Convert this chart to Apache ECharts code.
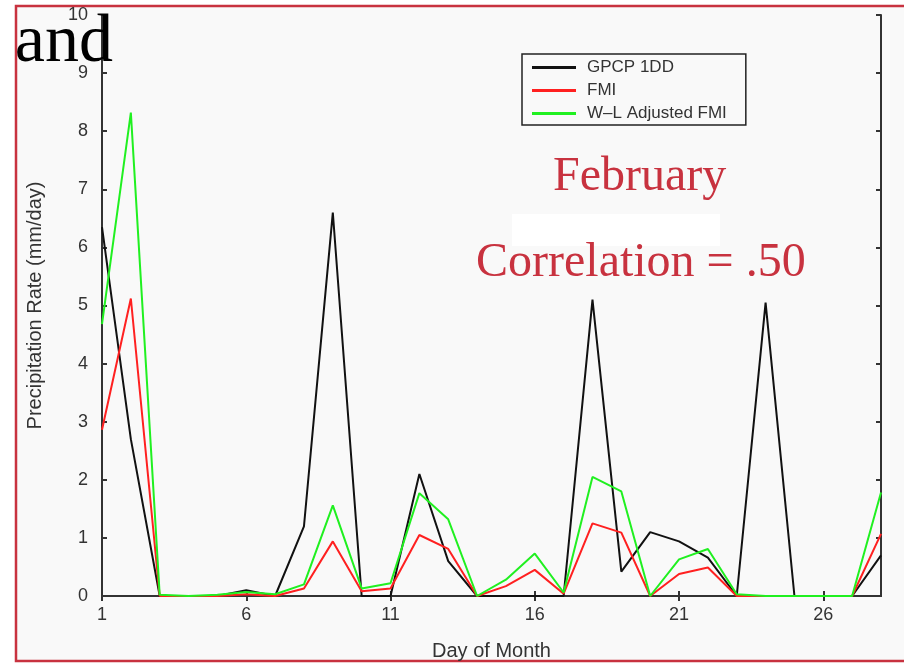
<!DOCTYPE html>
<html>
<head>
<meta charset="utf-8">
<script src="https://cdn.jsdelivr.net/npm/echarts@6/dist/echarts.min.js"></script>
<style>
  html, body { margin: 0; padding: 0; background: #fff; }
  #main { width: 904px; height: 666px; }
</style>
</head>
<body>
<div id="main"></div>
<script>
var myChart = echarts.init(document.getElementById('main'));

// day of month (February)
var days = [];
for (var d = 1; d <= 28; d++) days.push(String(d));

// precipitation rate, mm/day
var gpcp = [6.35, 2.7, 0, 0, 0, 0.1, 0, 1.2, 6.6, 0, 0, 2.1, 0.6, 0, 0, 0, 0, 5.1, 0.42, 1.1, 0.94, 0.66, 0, 5.05, 0, 0, 0, 0.7];
var fmi = [2.86, 5.12, 0, 0, 0, 0.03, 0, 0.13, 0.94, 0.08, 0.13, 1.05, 0.81, 0, 0.17, 0.45, 0.04, 1.25, 1.09, 0, 0.38, 0.49, 0, 0, 0, 0, 0, 1.07];
var wl = [4.68, 8.32, 0.02, 0, 0.02, 0.07, 0.03, 0.2, 1.56, 0.13, 0.22, 1.77, 1.32, 0, 0.28, 0.73, 0.06, 2.05, 1.8, 0, 0.63, 0.81, 0.03, 0, 0, 0, 0, 1.78];

var seriesNames = ['GPCP 1DD', 'FMI', 'W\u2013L Adjusted FMI'];
var seriesColors = ['#111111', '#ff2020', '#20f020'];

var sans = '"Liberation Sans", Arial, sans-serif';
var serif = '"Liberation Serif", "Times New Roman", serif';
var red = '#c8323f';

option = {
    backgroundColor: '#ffffff',
    animation: false,
    grid: { left: 102, right: 23, top: 15, bottom: 59 },
    legend: {
        data: seriesNames,
        orient: 'vertical',
        left: 522,
        top: 54,
        padding: [5, 19, 3, 10],
        itemGap: 6,
        itemWidth: 44,
        itemHeight: 3,
        icon: 'rect',
        borderColor: '#222',
        borderWidth: 1.5,
        textStyle: { color: '#333', fontFamily: sans, fontSize: 17, lineHeight: 16, padding: [0, 0, 0, 6] }
    },
    xAxis: [{
        type: 'category',
        data: days,
        boundaryGap: false,
        name: 'Day of Month',
        nameLocation: 'middle',
        nameGap: 45,
        nameTextStyle: { color: '#333', fontFamily: sans, fontSize: 20 },
        axisLine: { lineStyle: { color: '#333', width: 2 } },
        axisTick: { inside: true, length: 5, interval: 4, lineStyle: { color: '#333', width: 2 } },
        axisLabel: { interval: 4, color: '#333', fontFamily: sans, fontSize: 18, margin: 10 },
        splitLine: { show: false }
    }, {
        type: 'category',
        data: days,
        boundaryGap: false,
        position: 'top',
        axisLine: { lineStyle: { color: '#333', width: 2 } },
        axisTick: { inside: true, length: 5, interval: 4, lineStyle: { color: '#333', width: 2 } },
        axisLabel: { show: false },
        splitLine: { show: false }
    }],
    yAxis: [{
        type: 'value',
        min: 0,
        max: 10,
        interval: 1,
        name: 'Precipitation Rate (mm/day)',
        nameLocation: 'middle',
        nameGap: 57,
        nameTextStyle: { color: '#333', fontFamily: sans, fontSize: 20 },
        axisLine: { show: true, lineStyle: { color: '#333', width: 2 } },
        axisTick: { show: true, inside: true, length: 5, lineStyle: { color: '#333', width: 2 } },
        axisLabel: { color: '#333', fontFamily: sans, fontSize: 18, margin: 14 },
        splitLine: { show: false }
    }, {
        type: 'value',
        min: 0,
        max: 10,
        interval: 1,
        position: 'right',
        axisLine: { show: true, lineStyle: { color: '#333', width: 2 } },
        axisTick: { show: true, inside: true, length: 5, lineStyle: { color: '#333', width: 2 } },
        axisLabel: { show: false },
        splitLine: { show: false }
    }],
    series: [
        { name: seriesNames[0], type: 'line', data: gpcp, symbol: 'none', lineStyle: { width: 2, color: seriesColors[0] }, itemStyle: { color: seriesColors[0] } },
        { name: seriesNames[1], type: 'line', data: fmi, symbol: 'none', lineStyle: { width: 2, color: seriesColors[1] }, itemStyle: { color: seriesColors[1] } },
        { name: seriesNames[2], type: 'line', data: wl, symbol: 'none', lineStyle: { width: 2, color: seriesColors[2] }, itemStyle: { color: seriesColors[2] } }
    ],
    graphic: [
        { type: 'rect', z: -100, shape: { x: 16, y: 6, width: 900, height: 655 },
          style: { fill: '#f9f9f9', stroke: red, lineWidth: 2.5 } },
        { type: 'rect', z: 100, shape: { x: 512, y: 214, width: 208, height: 32 },
          style: { fill: '#ffffff' } },
        { type: 'text', z: 100, x: 553, y: 177,
          style: { text: 'February', font: '48px ' + serif, fill: red, textAlign: 'left', textVerticalAlign: 'middle' } },
        { type: 'text', z: 100, x: 476, y: 263,
          style: { text: 'Correlation = .50', font: '48px ' + serif, fill: red, textAlign: 'left', textVerticalAlign: 'middle' } },
        { type: 'text', z: 100, x: 113, y: 43,
          style: { text: 'and', font: '68px ' + serif, fill: '#000', textAlign: 'right', textVerticalAlign: 'middle' } }
    ]
};
myChart.setOption(option);
</script>
</body>
</html>
